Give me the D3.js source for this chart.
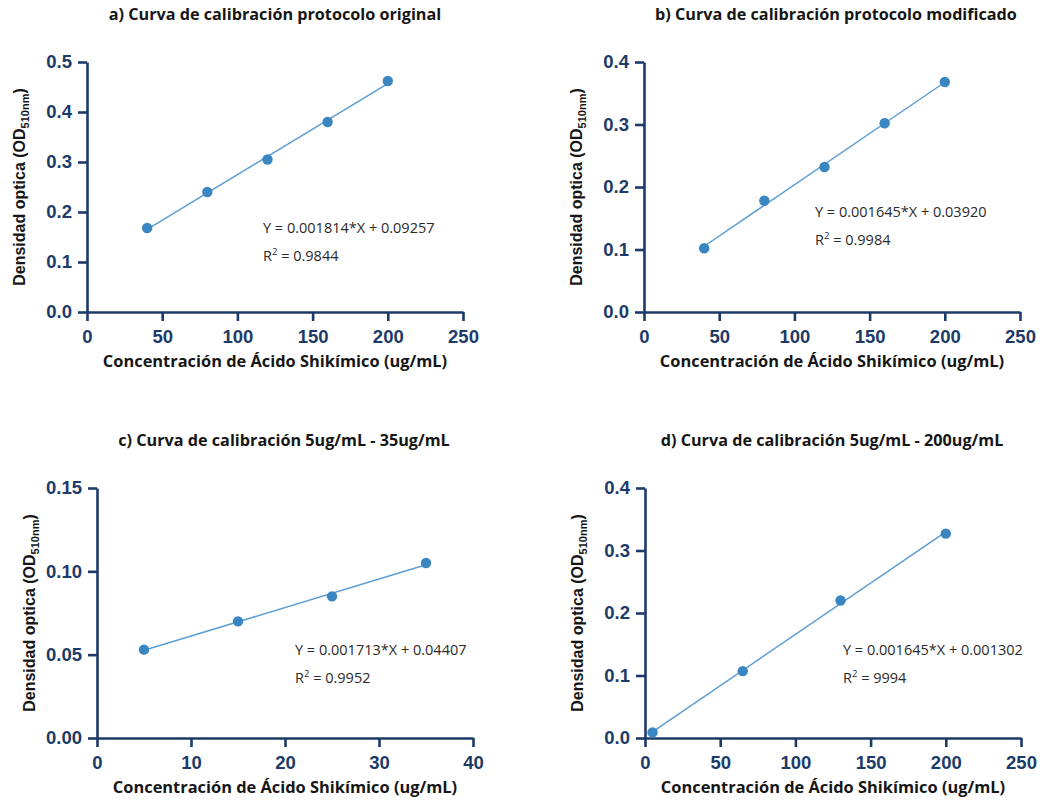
<!DOCTYPE html>
<html>
<head>
<meta charset="utf-8">
<script src="https://cdn.jsdelivr.net/npm/d3@7"></script>
<style>
  body { margin: 0; background: #fff; }
  svg { display: block; }
</style>
</head>
<body>
<div id="chart"></div>
<script>
// data
var titles = [
  'a) Curva de calibración protocolo original',
  'b) Curva de calibración protocolo modificado',
  'c) Curva de calibración 5ug/mL - 35ug/mL',
  'd) Curva de calibración 5ug/mL - 200ug/mL'
];

var concA = [40, 80, 120, 160, 200];
var odA   = [0.168, 0.240, 0.305, 0.380, 0.462];

var concB = [40, 80, 120, 160, 200];
var odB   = [0.102, 0.178, 0.232, 0.302, 0.368];

var concC = [5, 15, 25, 35];
var odC   = [0.053, 0.070, 0.085, 0.105];

var concD = [5, 65, 130, 200];
var odD   = [0.009, 0.107, 0.220, 0.327];

var xTicks250 = [0, 50, 100, 150, 200, 250];
var xTicks40  = [0, 10, 20, 30, 40];
var yTicksA   = [0, 0.1, 0.2, 0.3, 0.4, 0.5];
var yTicks04  = [0, 0.1, 0.2, 0.3, 0.4];
var yTicksC   = [0, 0.05, 0.10, 0.15];

var equations = [
  'Y = 0.001814*X + 0.09257',
  'Y = 0.001645*X + 0.03920',
  'Y = 0.001713*X + 0.04407',
  'Y = 0.001645*X + 0.001302'
];
var r2Values = ['0.9844', '0.9984', '0.9952', '9994'];

var xLabel = 'Concentración de Ácido Shikímico (ug/mL)';

// layout
var width = 1044, height = 802;
var axisColor = '#1d3b69';
var dotColor = '#3a86c1';
var lineColor = '#5c9ed3';
var textFont = '"Open Sans", Lato, sans-serif';

var panels = [
  { left: 87,  top: 62,  w: 376, h: 250, x: concA, y: odA, xMax: 250, yMax: 0.5,  xt: xTicks250, yt: yTicksA,  fmt: '.1f', titleX: 275, titleY: 20,  eq: [263, 233] },
  { left: 644, top: 62,  w: 376, h: 250, x: concB, y: odB, xMax: 250, yMax: 0.4,  xt: xTicks250, yt: yTicks04, fmt: '.1f', titleX: 836, titleY: 20,  eq: [815, 217] },
  { left: 97,  top: 488, w: 376, h: 250, x: concC, y: odC, xMax: 40,  yMax: 0.15, xt: xTicks40,  yt: yTicksC,  fmt: '.2f', titleX: 284, titleY: 446, eq: [295, 655] },
  { left: 645, top: 488, w: 376, h: 250, x: concD, y: odD, xMax: 250, yMax: 0.4,  xt: xTicks250, yt: yTicks04, fmt: '.1f', titleX: 832, titleY: 446, eq: [843, 655] }
];

var svg = d3.select('#chart')
  .append('svg')
  .attr('width', width)
  .attr('height', height);

panels.forEach(function(p, i){

  var xScale = d3.scaleLinear().domain([0, p.xMax]).range([p.left, p.left + p.w]);
  var yScale = d3.scaleLinear().domain([0, p.yMax]).range([p.top + p.h, p.top]);

  var pts = p.x.map(function(d, j){ return { x: d, y: p.y[j] }; });

  // title
  svg.append('text')
    .attr('x', p.titleX)
    .attr('y', p.titleY)
    .attr('text-anchor', 'middle')
    .style('font-family', textFont)
    .style('font-weight', 'bold')
    .style('font-size', '16.2px')
    .attr('fill', '#161616')
    .text(titles[i]);

  // axes
  var xAxis = svg.append('g')
    .attr('transform', 'translate(0,' + (p.top + p.h) + ')')
    .call(d3.axisBottom(xScale).tickValues(p.xt).tickSize(9).tickPadding(9).tickSizeOuter(0));

  var yAxis = svg.append('g')
    .attr('transform', 'translate(' + p.left + ',0)')
    .call(d3.axisLeft(yScale).tickValues(p.yt).tickFormat(d3.format(p.fmt)).tickSize(9).tickPadding(6).tickSizeOuter(0));

  [xAxis, yAxis].forEach(function(ax){
    ax.select('.domain').attr('stroke', axisColor).attr('stroke-width', 2.6);
    ax.selectAll('.tick line').attr('stroke', axisColor).attr('stroke-width', 2.6);
    ax.selectAll('.tick text')
      .attr('fill', axisColor)
      .style('font-family', '"Liberation Sans", Arial, sans-serif')
      .style('font-weight', 'bold')
      .style('font-size', '18.5px');
  });

  // axis labels
  svg.append('text')
    .attr('x', p.left + p.w / 2)
    .attr('y', p.top + p.h + 55)
    .attr('text-anchor', 'middle')
    .style('font-family', textFont)
    .style('font-weight', 'bold')
    .style('font-size', '16.4px')
    .attr('fill', '#161616')
    .text(xLabel);

  var yl = svg.append('text')
    .attr('transform', 'translate(' + (p.left - 62) + ',' + (p.top + p.h / 2) + ') rotate(-90)')
    .attr('text-anchor', 'middle')
    .style('font-family', '"Liberation Sans", Arial, sans-serif')
    .style('font-weight', 'bold')
    .style('font-size', '16px')
    .attr('fill', '#161616');
  yl.append('tspan').text('Densidad optica (OD');
  yl.append('tspan').attr('dy', 4).style('font-size', '11px').text('510nm');
  yl.append('tspan').attr('dy', -4).text(')');

  // fit line (least squares over the points)
  var mx = d3.mean(pts, function(d){ return d.x; });
  var my = d3.mean(pts, function(d){ return d.y; });
  var sxy = d3.sum(pts, function(d){ return (d.x - mx) * (d.y - my); });
  var sxx = d3.sum(pts, function(d){ return (d.x - mx) * (d.x - mx); });
  var slope = sxy / sxx;
  var icpt = my - slope * mx;
  var ext = d3.extent(pts, function(d){ return d.x; });

  svg.append('path')
    .datum(ext.map(function(x){ return { x: x, y: icpt + slope * x }; }))
    .attr('fill', 'none')
    .attr('stroke', lineColor)
    .attr('stroke-width', 1.5)
    .attr('d', d3.line().x(function(d){ return xScale(d.x); }).y(function(d){ return yScale(d.y); }));

  svg.append('g')
    .selectAll('circle')
    .data(pts)
    .enter()
    .append('circle')
    .attr('cx', function(d){ return xScale(d.x); })
    .attr('cy', function(d){ return yScale(d.y); })
    .attr('r', 5.2)
    .attr('fill', dotColor);

  // equation + R2
  svg.append('text')
    .attr('x', p.eq[0])
    .attr('y', p.eq[1])
    .style('font-family', textFont)
    .style('font-size', '14.5px')
    .attr('fill', '#2a2a2a')
    .text(equations[i]);

  var r2 = svg.append('text')
    .attr('x', p.eq[0])
    .attr('y', p.eq[1] + 28)
    .style('font-family', textFont)
    .style('font-size', '14.5px')
    .attr('fill', '#2a2a2a');
  r2.append('tspan').text('R');
  r2.append('tspan').attr('dy', -6).style('font-size', '9.5px').text('2');
  r2.append('tspan').attr('dy', 6).text(' = ' + r2Values[i]);

});
</script>
</body>
</html>
